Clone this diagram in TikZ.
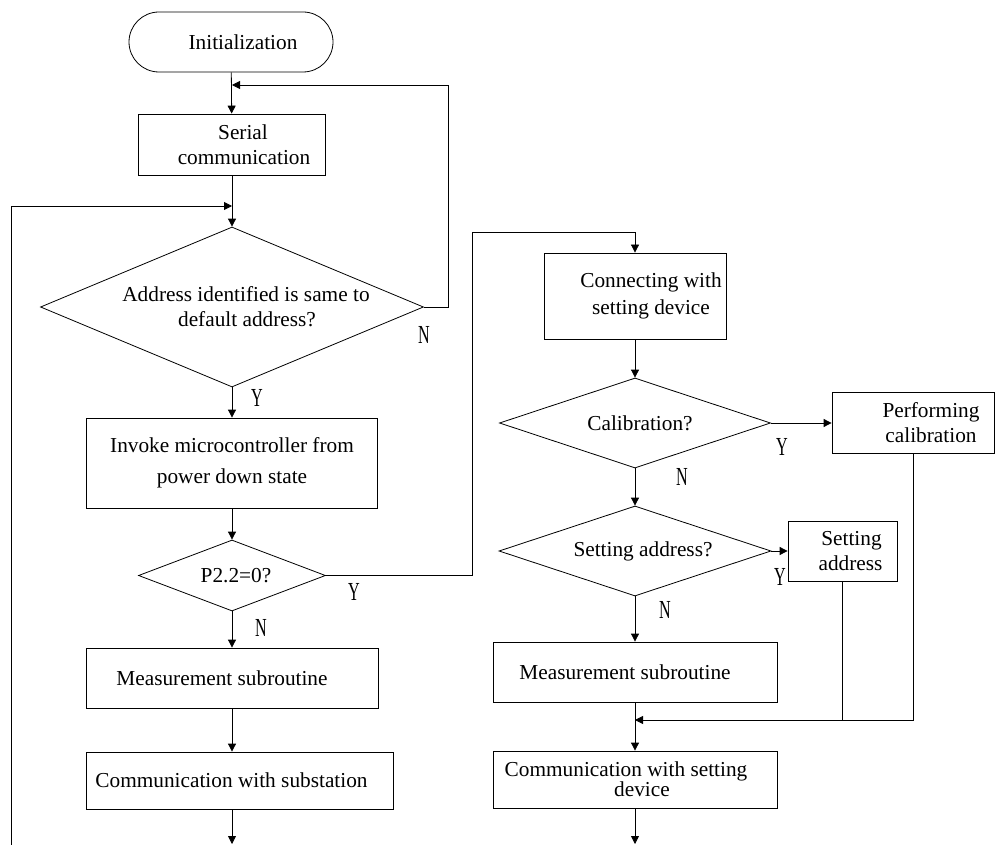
\documentclass[tikz,border=0pt]{standalone}
\usepackage{fontspec}
\setmainfont{Liberation Serif}
\newfontfamily\ynfont[FakeStretch=0.62]{Liberation Serif}
\usetikzlibrary{shapes.geometric,arrows.meta}

\tikzset{
  box/.style={draw, rectangle, align=center, inner sep=0pt},
  decision/.style={draw, diamond, align=center, inner sep=0pt},
  term/.style={draw, rectangle, rounded corners=30pt, inner sep=0pt},
  arr/.style={-{Triangle[length=8pt,width=8pt]}},
  yn/.style={font=\ynfont\fontsize{26}{26}\selectfont, inner sep=0pt},
}

\begin{document}
\begin{tikzpicture}[x=1pt, y=-1pt, line width=0.8pt, font=\fontsize{21.3}{25}\selectfont]
    \useasboundingbox (0,0) rectangle (996,845);

    % linke Spalte
    \node[term, minimum width=204, minimum height=60] (init) at (231,42) {\hspace*{24pt}Initialization};
    \node[box, minimum width=187, minimum height=61] (serial) at (232,144.5) {\hspace*{22pt}Serial\\\hspace*{24pt}communication};
    \node[decision, aspect=2.4, minimum width=383, minimum height=160] (addr) at (232,307) {\hspace*{28pt}Address identified is same to\\\hspace*{30pt}default address?};
    \node[box, minimum width=291, minimum height=90, font=\fontsize{21.3}{31}\selectfont] (invoke) at (232,463) {Invoke microcontroller from\\power down state};
    \node[decision, aspect=2.6, minimum width=187, minimum height=71] (port) at (232,575.5) {\hspace*{8pt}P2.2=0?};
    \node[box, minimum width=292, minimum height=60] (meas) at (232,678) {Measurement subroutine\hspace*{20pt}};
    \node[box, minimum width=307, minimum height=57] (commsub) at (239.5,780.5) {Communication with substation\hspace*{16pt}};

    % rechte Spalte
    \node[box, minimum width=182, minimum height=86, font=\fontsize{21.3}{27}\selectfont] (conn) at (635,296) {\hspace*{32pt}Connecting with\\\hspace*{32pt}setting device};
    \node[decision, aspect=3, minimum width=271, minimum height=90] (calq) at (635,423) {\hspace*{10pt}Calibration?};
    \node[box, minimum width=162, minimum height=61] (calib) at (913,423) {\hspace*{36pt}Performing\\\hspace*{36pt}calibration};
    \node[decision, aspect=3, minimum width=272, minimum height=90] (setq) at (635,551) {\hspace*{16pt}Setting address?};
    \node[box, minimum width=109, minimum height=60] (setaddr) at (842.5,551) {\hspace*{18pt}Setting\\\hspace*{16pt}address};
    \node[box, minimum width=284, minimum height=60] (meas2) at (635,672) {Measurement subroutine\hspace*{20pt}};
    \node[box, minimum width=284, minimum height=57, font=\fontsize{21.3}{20}\selectfont] (commset) at (635,779.5) {Communication with setting\hspace*{18pt}\\\hspace*{14pt}device};

    % Hilfspunkte
    \coordinate (loopr) at (448,85);
    \coordinate (loopl) at (11,845);
    \coordinate (jtop) at (232,85);
    \coordinate (jmid) at (232,206);
    \coordinate (cross) at (472,232);
    \coordinate (merge) at (635,720);
    \coordinate (endl) at (232,844);
    \coordinate (endr) at (635,844);

    % Y/N Labels
    \node[yn] (n1) at (424,335) {N};
    \node[yn] (y1) at (257,398) {Y};
    \node[yn] (y2) at (354,592) {Y};
    \node[yn] (n2) at (261,628) {N};
    \node[yn] (y3) at (782,447) {Y};
    \node[yn] (n3) at (682,477) {N};
    \node[yn] (y4) at (780,577) {Y};
    \node[yn] (n4) at (665,610) {N};

    % Verbindungen links
    \draw[arr] (init) -- (serial);
    \draw[arr] (addr.east) -| (loopr) -- (jtop);
    \draw[arr] (serial) -- (addr);
    \draw[arr] (loopl) |- (jmid);
    \draw[arr] (addr) -- (invoke);
    \draw[arr] (invoke) -- (port);
    \draw[arr] (port) -- (meas);
    \draw[arr] (meas.south) -- (meas.south |- commsub.north);
    \draw[arr] (commsub.south -| endl) -- (endl);

    % Verbindungen rechts
    \draw[arr] (port.east) -| (cross) -| (conn.north);
    \draw[arr] (conn) -- (calq);
    \draw[arr] (calq.east) -- (calib.west);
    \draw[arr] (calq) -- (setq);
    \draw[arr] (setq.east) -- (setaddr.west);
    \draw[arr] (setq) -- (meas2);
    \draw[arr] (meas2) -- (commset);
    \draw (setaddr.south) -- (setaddr.south |- merge);
    \draw[arr] (calib.south) |- (merge);
    \draw[arr] (commset) -- (endr);
\end{tikzpicture}
\end{document}
